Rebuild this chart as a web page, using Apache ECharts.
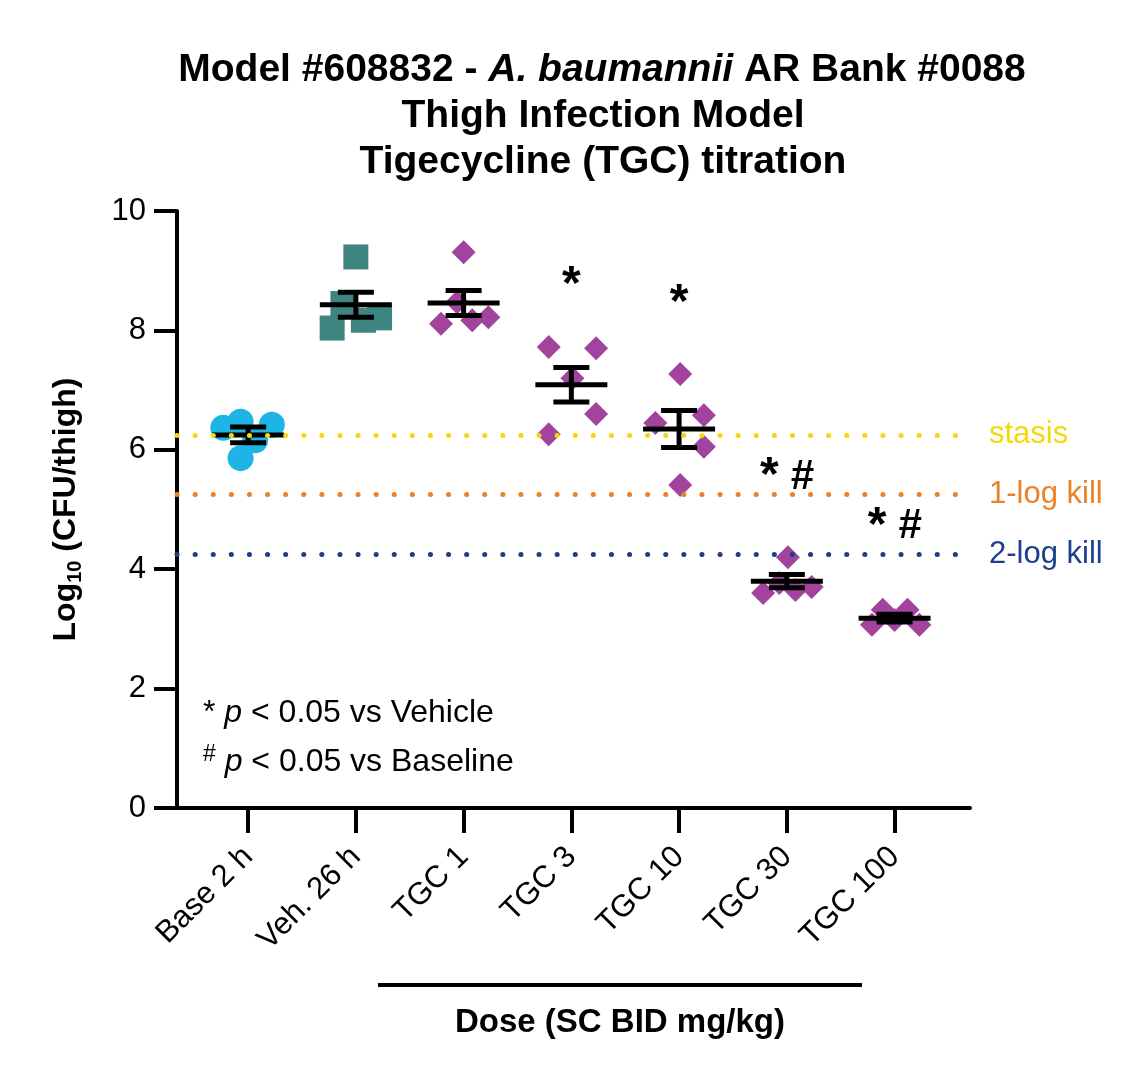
<!DOCTYPE html>
<html><head><meta charset="utf-8">
<script src="https://cdn.jsdelivr.net/npm/echarts@6/dist/echarts.min.js"></script>
<style>html,body{margin:0;padding:0;background:#fff}#c{width:1145px;height:1085px}</style>
</head><body><div id="c"></div>
<script>
const categories = ['Base 2 h', 'Veh. 26 h', 'TGC 1', 'TGC 3', 'TGC 10', 'TGC 30', 'TGC 100'];
const base2h = [6.37, 6.47, 6.42, 6.16, 5.86];
const veh26h = [9.23, 8.45, 8.04, 8.17, 8.21];
const tgc1 = [9.31, 8.47, 8.11, 8.17, 8.22];
const tgc3 = [7.72, 7.70, 7.20, 6.60, 6.26];
const tgc10 = [7.27, 6.58, 6.45, 6.05, 5.41];
const tgc30 = [4.20, 3.77, 3.65, 3.70, 3.60];
const tgc100 = [3.07, 3.32, 3.15, 3.32, 3.07];
const groupMeans = [6.25, 8.43, 8.46, 7.09, 6.35, 3.80, 3.18];
const groupSEM = [0.13, 0.21, 0.21, 0.29, 0.31, 0.11, 0.065];
const sigMarks = ['', '', '', '*', '*', '* #', '* #'];
const sigMarkY = [null, null, null, 8.74, 8.44, 5.54, 4.71];
const refLevels = [6.25, 5.25, 4.25];
const refNames = ['stasis', '1-log kill', '2-log kill'];
const yTicks = [0, 2, 4, 6, 8, 10];
// horizontal scatter of individual animals within each group (GraphPad-style spread)
const spread = [
  [-0.23, -0.07, 0.22, 0.065, -0.07],
  [0.0, -0.12, -0.22, 0.07, 0.22],
  [0.0, -0.06, -0.21, 0.08, 0.23],
  [-0.21, 0.23, 0.01, 0.23, -0.21],
  [0.01, 0.23, -0.22, 0.23, 0.01],
  [0.01, -0.07, 0.08, 0.23, -0.22],
  [-0.21, -0.11, 0.0, 0.12, 0.23]
];

const groups = [base2h, veh26h, tgc1, tgc3, tgc10, tgc30, tgc100];
const symbols = ['circle', 'rect', 'diamond', 'diamond', 'diamond', 'diamond', 'diamond'];
const colors = ['#1EB4E6', '#3E8480', '#A2449D', '#A2449D', '#A2449D', '#A2449D', '#A2449D'];
const sizes = [26, 25, 24, 24, 24, 24, 24];
const refColors = ['#F5D80C', '#EC8228', '#1B3F8B'];
const FONT = 'Liberation Sans, Arial, Helvetica, sans-serif';

const chart = echarts.init(document.getElementById('c'), null, {renderer: 'canvas'});

const series = [];
groups.forEach((vals, gi) => {
  series.push({
    type: 'scatter',
    z: 2,
    symbol: symbols[gi],
    symbolSize: sizes[gi],
    itemStyle: {color: colors[gi], opacity: 1},
    silent: true,
    data: vals.map((v, i) => [gi + spread[gi][i], v])
  });
});

series.push({
  type: 'custom',
  z: 3,
  silent: true,
  data: groupMeans.map((m, i) => [i, m, groupSEM[i]]),
  renderItem: function (params, api) {
    const x = api.value(0), m = api.value(1), s = api.value(2);
    const c = api.coord([x, m]);
    const t = api.coord([x, m + s]);
    const b = api.coord([x, m - s]);
    const st = {stroke: '#000', lineWidth: 5};
    return {
      type: 'group',
      children: [
        {type: 'line', shape: {x1: c[0], y1: t[1], x2: c[0], y2: b[1]}, style: st},
        {type: 'line', shape: {x1: c[0] - 18, y1: t[1], x2: c[0] + 18, y2: t[1]}, style: st},
        {type: 'line', shape: {x1: c[0] - 18, y1: b[1], x2: c[0] + 18, y2: b[1]}, style: st},
        {type: 'line', shape: {x1: c[0] - 36, y1: c[1], x2: c[0] + 36, y2: c[1]}, style: st}
      ]
    };
  }
});

series.push({
  type: 'scatter',
  z: 5,
  silent: true,
  data: [],
  markLine: {
    silent: true,
    symbol: 'none',
    animation: false,
    data: refLevels.map((v, i) => ({
      yAxis: v,
      name: refNames[i],
      lineStyle: {color: refColors[i], type: [0.1, 18], width: 5, cap: 'round'},
      label: {color: refColors[i]}
    })),
    label: {show: true, position: 'end', formatter: '{b}', fontSize: 31, fontFamily: FONT, distance: 19}
  }
});

const sigIdx = sigMarks.map((t, i) => i).filter(i => sigMarks[i] !== '');
series.push({
  type: 'custom',
  z: 6,
  silent: true,
  data: sigIdx.map(i => [i, sigMarkY[i]]),
  renderItem: function (params, api) {
    const i = api.value(0);
    const p = api.coord([i, api.value(1)]);
    const txt = sigMarks[i].replace('*', '{s|*}').replace('#', '{h|#}');
    return {
      type: 'text',
      x: p[0], y: p[1],
      style: {
        text: txt, align: 'center', verticalAlign: 'middle', fill: '#000',
        rich: {
          s: {fontSize: 48, fontWeight: 'bold', fontFamily: FONT, fill: '#000', lineHeight: 48},
          h: {fontSize: 42, fontWeight: 'bold', fontStyle: 'italic', fontFamily: FONT, fill: '#000', lineHeight: 48}
        },
        fontSize: 42, fontWeight: 'bold', fontFamily: FONT
      }
    };
  }
});

chart.setOption({
  animation: false,
  backgroundColor: '#fff',
  grid: {left: 177, right: 175, top: 211, bottom: 277, containLabel: false},
  xAxis: {
    type: 'value',
    min: -0.66, max: 6.7,
    splitLine: {show: false},
    axisLine: {show: true, onZero: false, lineStyle: {color: '#000', width: 4}},
    axisTick: {show: true, customValues: categories.map((c, i) => i), length: 25, lineStyle: {color: '#000', width: 4}},
    axisLabel: {
      show: true, customValues: categories.map((c, i) => i), rotate: 45, margin: 44,
      fontSize: 31, color: '#000', fontFamily: FONT,
      formatter: v => categories[Math.round(v)]
    }
  },
  yAxis: {
    type: 'value',
    min: 0, max: 10, interval: 2,
    splitLine: {show: false},
    axisLine: {show: true, onZero: false, lineStyle: {color: '#000', width: 4}},
    axisTick: {show: true, length: 23, lineStyle: {color: '#000', width: 4}},
    axisLabel: {fontSize: 31, color: '#000', margin: 31, fontFamily: FONT,
      formatter: v => yTicks.includes(v) ? String(v) : ''},
    name: '{a|Log}{s|10}{a| (CFU/thigh)}',
    nameLocation: 'middle',
    nameRotate: 90,
    nameGap: 92,
    nameTextStyle: {
      fontFamily: FONT,
      rich: {
        a: {fontSize: 32, fontWeight: 'bold', color: '#000', fontFamily: FONT, lineHeight: 38, verticalAlign: 'middle'},
        s: {fontSize: 20, fontWeight: 'bold', color: '#000', fontFamily: FONT, lineHeight: 38, verticalAlign: 'bottom'}
      }
    }
  },
  graphic: [
    {type: 'text', x: 602, y: 70, style: {
      text: '{b|Model #608832 - }{i|A. baumannii}{b| AR Bank #0088}', align: 'center', verticalAlign: 'middle',
      rich: {
        b: {fontSize: 39, fontWeight: 'bold', fontFamily: FONT, fill: '#000'},
        i: {fontSize: 39, fontWeight: 'bold', fontStyle: 'italic', fontFamily: FONT, fill: '#000'}
      }}},
    {type: 'text', x: 603, y: 116, style: {text: 'Thigh Infection Model', align: 'center', verticalAlign: 'middle',
      font: 'bold 39px ' + FONT, fill: '#000'}},
    {type: 'text', x: 603, y: 162, style: {text: 'Tigecycline (TGC) titration', align: 'center', verticalAlign: 'middle',
      font: 'bold 39px ' + FONT, fill: '#000'}},
    {type: 'text', x: 203, y: 713, style: {
      text: '{n|* }{i|p}{n| < 0.05 vs Vehicle}', verticalAlign: 'middle',
      rich: {
        n: {fontSize: 32, fontFamily: FONT, fill: '#000'},
        i: {fontSize: 32, fontStyle: 'italic', fontFamily: FONT, fill: '#000'}
      }}},
    {type: 'text', x: 203, y: 762, style: {
      text: '{u|#}{n| }{i|p}{n| < 0.05 vs Baseline}', verticalAlign: 'middle',
      rich: {
        u: {fontSize: 23, fontFamily: FONT, fill: '#000', verticalAlign: 'top', lineHeight: 38},
        n: {fontSize: 32, fontFamily: FONT, fill: '#000', lineHeight: 38},
        i: {fontSize: 32, fontStyle: 'italic', fontFamily: FONT, fill: '#000', lineHeight: 38}
      }}},
    {type: 'line', shape: {x1: 378, y1: 985, x2: 862, y2: 985}, style: {stroke: '#000', lineWidth: 4}},
    {type: 'text', x: 620, y: 1023, style: {text: 'Dose (SC BID mg/kg)', align: 'center', verticalAlign: 'middle',
      font: 'bold 33px ' + FONT, fill: '#000'}}
  ],
  series: series
});
</script>
</body></html>
